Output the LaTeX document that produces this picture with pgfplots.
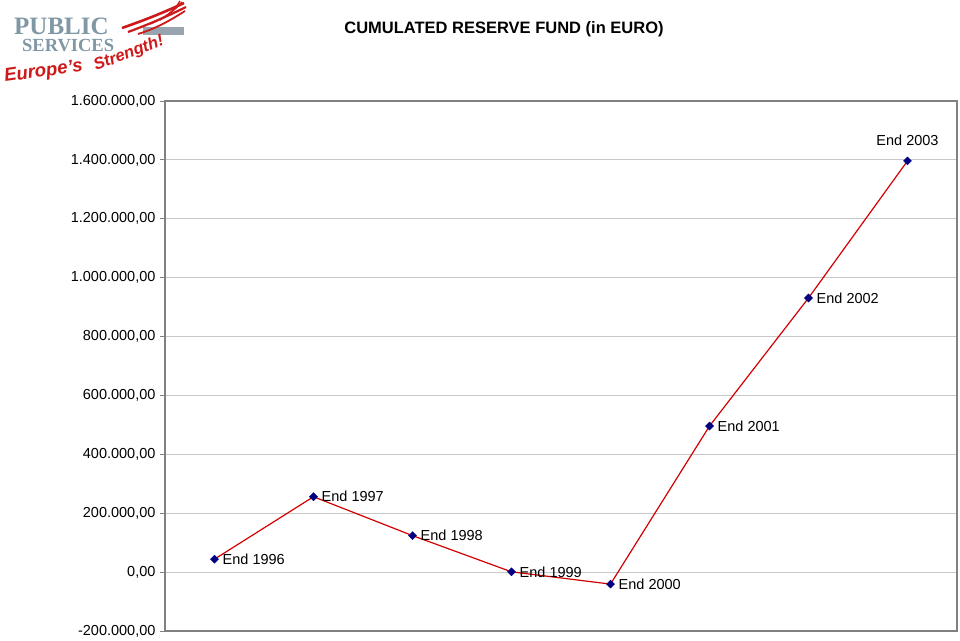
\documentclass[border=0pt]{standalone}
\usepackage{fontspec}
\setmainfont{Liberation Sans}
\newfontfamily\logoserif{Liberation Serif}
\usepackage{pgfplots}
\usepackage{pgfplotstable}
\pgfplotsset{compat=1.18}
\definecolor{gridgray}{RGB}{200,200,200}
\definecolor{axisgray}{RGB}{128,128,128}
\definecolor{linered}{RGB}{210,0,0}
\definecolor{navy}{RGB}{0,0,128}
\definecolor{logoblue}{RGB}{128,152,166}
\definecolor{logored}{RGB}{205,25,25}
\definecolor{barsgray}{RGB}{150,165,175}

\pgfplotstableread{
x y label
0 44000 {End 1996}
1 256000 {End 1997}
2 124000 {End 1998}
3 1000 {End 1999}
4 -40700 {End 2000}
5 496000 {End 2001}
6 931000 {End 2002}
7 1396600 {End 2003}
}\datatable
\pgfplotstableread{
x y label
0 44000 {End 1996}
1 256000 {End 1997}
2 124000 {End 1998}
3 1000 {End 1999}
4 -40700 {End 2000}
5 496000 {End 2001}
6 931000 {End 2002}
}\righttable
\pgfplotstableread{
x y label
7 1396600 {End 2003}
}\toptable

\begin{document}
\begin{tikzpicture}[x=1pt,y=1pt]
\useasboundingbox (0,0) rectangle (960,640);
% logo
\fill[barsgray] (143,605) rectangle (184,613);
\draw[logored, line width=2.6pt] (122,612) .. controls (145,620) and (165,628) .. (184,637);
\draw[logored, line width=2.2pt] (128,608) .. controls (150,616) and (170,625) .. (186,633);
\draw[logored, line width=1.8pt] (138,606) .. controls (158,612) and (174,622) .. (185,629);
\draw[logored, line width=1.4pt] (150,616) .. controls (165,622) and (175,630) .. (182,638);
\draw[logored, line width=1.4pt] (160,620) .. controls (170,626) and (176,632) .. (180,639);
\node[anchor=base west, inner sep=0pt, text=logoblue, font=\logoserif\bfseries\fontsize{25}{26}\selectfont] at (14,605) {PUBLIC};
\node[anchor=base west, inner sep=0pt, text=logoblue, font=\logoserif\bfseries\fontsize{18.5}{20}\selectfont] at (22,588) {SERVICES};
\node[anchor=base west, inner sep=0pt, text=logored, rotate=8, font=\bfseries\itshape\fontsize{18.5}{20}\selectfont] at (5,558) {Europe's};
\node[anchor=base west, inner sep=0pt, text=logored, rotate=21, font=\bfseries\itshape\fontsize{16.5}{18}\selectfont] at (96,569) {Strength!};
% title
\node[font=\bfseries\fontsize{16.5}{19}\selectfont] at (504,611) {CUMULATED RESERVE FUND (in EURO)};
\begin{axis}[
  at={(165pt,9pt)}, anchor=south west,
  scale only axis, width=792pt, height=530pt,
  xmin=-0.5, xmax=7.5, ymin=-200000, ymax=1600000,
  ytick={-200000,0,200000,400000,600000,800000,1000000,1200000,1400000,1600000},
  xtick=\empty,
  ytick pos=left,
  ymajorgrids,
  grid style={gridgray, line width=0.9pt},
  axis line style={axisgray, line width=1.1pt},
  tick style={axisgray, line width=0.9pt},
  tick align=outside, major tick length=5pt,
  scaled y ticks=false,
  yticklabel style={font=\fontsize{14.5}{16}\selectfont, xshift=-1pt},
  /pgf/number format/.cd, fixed, fixed zerofill, precision=2, 1000 sep={.}, dec sep={,}, assume math mode=true,
  /pgfplots/.cd,
  clip=false,
]
\addplot[linered, line width=1.2pt, mark=square*, mark size=2.9pt,
  mark options={navy, fill=navy, line width=0.3pt, rotate=45}] table[x=x, y=y] {\datatable};
\addplot[draw=none, mark=none, nodes near coords, point meta=explicit symbolic,
  every node near coord/.append style={anchor=west, font=\fontsize{14.5}{16}\selectfont, text=black, inner sep=0pt, xshift=8pt}]
  table[x=x, y=y, meta=label] {\righttable};
\addplot[draw=none, mark=none, nodes near coords, point meta=explicit symbolic,
  every node near coord/.append style={anchor=south, font=\fontsize{14.5}{16}\selectfont, text=black, inner sep=0pt, yshift=15pt}]
  table[x=x, y=y, meta=label] {\toptable};
\end{axis}
\end{tikzpicture}
\end{document}
